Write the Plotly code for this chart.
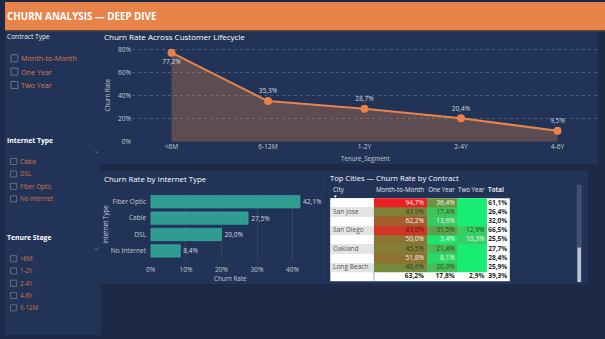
import plotly.graph_objects as go

W, H = 605, 339
FONT = "Open Sans, Noto Sans, sans-serif"

# ---------------- data ----------------
tenure_segments = ["<6M", "6-12M", "1-2Y", "2-4Y", "4-6Y"]
tenure_churn = [0.772, 0.353, 0.287, 0.204, 0.095]

internet_types = ["Fiber Optic", "Cable", "DSL", "No Internet"]
internet_churn = [0.421, 0.275, 0.200, 0.084]

table_columns = ["City", "Month-to-Month", "One Year", "Two Year", "Total"]
table_cities = ["", "San Jose", "", "San Diego", "", "Oakland", "", "Long Beach"]
mtm_churn = [0.947, 0.439, 0.622, 0.830, 0.500, 0.455, 0.518, 0.406]
one_year_churn = [0.364, 0.174, 0.136, 0.315, 0.034, 0.214, 0.081, 0.200]
two_year_churn = [None, None, None, 0.129, 0.103, None, None, None]
city_total_churn = [0.611, 0.264, 0.320, 0.665, 0.255, 0.277, 0.284, 0.259]
total_row_churn = [0.632, 0.178, 0.029, 0.393]

contract_options = ["Month-to-Month", "One Year", "Two Year"]
internet_options = ["Cable", "DSL", "Fiber Optic", "No Internet"]
tenure_options = ["<6M", "1-2Y", "2-4Y", "4-6Y", "6-12M"]


def fmt(v):
    return f"{v * 100:.1f}%".replace(".", ",")


def px(x):
    return x / W


def py(y):
    return 1 - y / H


ORANGE = "#E8834A"
NAVY_PAGE = "#1C2A48"
NAVY_PANEL = "#213357"
TEXT = "#D3D8E1"
AXIS_TXT = "#C4CAD5"
GRID = "rgba(190,200,220,0.28)"
LEFT_FIX = 2.5  # annotation text inset compensation

fig = go.Figure()
shapes = []
annotations = []


def rect(x0, y0, x1, y1, color, layer="below", line=None):
    shapes.append(dict(type="rect", xref="paper", yref="paper",
                       x0=px(x0), x1=px(x1), y0=py(y1), y1=py(y0),
                       fillcolor=color, line=line or dict(width=0), layer=layer))


def text(x, y, s, size=7, color=TEXT, xanchor="left", bold=False, angle=0):
    if xanchor == "left":
        x = x - LEFT_FIX
    annotations.append(dict(xref="paper", yref="paper", x=px(x), y=py(y),
                            text=f"<b>{s}</b>" if bold else s, showarrow=False,
                            xanchor=xanchor, yanchor="middle", textangle=angle,
                            font=dict(size=size, color=color, family=FONT)))


# ---------------- page background & panels ----------------
rect(0, 29, 97, 339, NAVY_PANEL)
rect(97, 30, 598, 165, NAVY_PANEL)
rect(97, 172, 325, 287, NAVY_PANEL)
rect(325, 172, 588, 287, NAVY_PANEL)
rect(0, 0, 605, 29, ORANGE)
rect(0, 28.5, 605, 30, "#5A4536")
text(3, 14.5, "CHURN ANALYSIS — DEEP DIVE", size=9.8, color="white", bold=True)

# ---------------- slicers ----------------
text(2, 35, "Contract Type", size=6.6, color="#E6E9EF")
for i, opt in enumerate(contract_options):
    yc = 57.3 + i * 13.6
    rect(6, yc - 3.6, 13, yc + 3.6, "rgba(0,0,0,0)", line=dict(color="#66748C", width=1))
    text(17, yc, opt, size=7.2, color="#DB7A46")

text(2, 140.5, "Internet Type", size=6.8, color="white", bold=True)
text(92, 150, "⌄", size=8, color="#5D6B84", xanchor="center")
for i, opt in enumerate(internet_options):
    yc = 162.3 + i * 12.7
    rect(5.5, yc - 3.1, 11.8, yc + 3.1, "rgba(0,0,0,0)", line=dict(color="#5F6D86", width=1))
    text(16, yc, opt, size=6.2, color="#D9773F")

text(2, 239.5, "Tenure Stage", size=6.8, color="white", bold=True)
text(92, 249, "⌄", size=8, color="#5D6B84", xanchor="center")
for i, opt in enumerate(tenure_options):
    yc = 261.3 + i * 12.5
    rect(5.5, yc - 3.1, 11.8, yc + 3.1, "rgba(0,0,0,0)", line=dict(color="#5F6D86", width=1))
    text(16, yc, opt, size=6.2, color="#D9773F")

# ---------------- line / area chart ----------------
text(100, 35.5, "Churn Rate Across Customer Lifecycle", size=8, color="white")
fig.add_trace(go.Scatter(
    x=tenure_segments, y=tenure_churn, mode="lines+markers+text",
    fill="tozeroy", fillcolor="rgba(232,131,74,0.31)",
    line=dict(color=ORANGE, width=2), marker=dict(size=8, color=ORANGE),
    text=[fmt(v) for v in tenure_churn],
    textposition=["bottom center"] + ["top center"] * 4,
    textfont=dict(size=6.6, color=TEXT, family=FONT),
    cliponaxis=False, hoverinfo="skip", xaxis="x", yaxis="y"))
text(103, 95, "Churn Rate", size=6.2, color=AXIS_TXT, xanchor="center", angle=-90)
text(363, 159, "Tenure_Segment", size=6.2, color=AXIS_TXT, xanchor="center")

# ---------------- bar chart ----------------
text(100, 180, "Churn Rate by Internet Type", size=7.8, color="white")
fig.add_trace(go.Bar(
    x=internet_churn, y=internet_types, orientation="h", width=0.76,
    marker=dict(color="#2E9C91", line=dict(color="#3FB3A7", width=0.6)),
    text=[fmt(v) for v in internet_churn], textposition="outside",
    textfont=dict(size=6.6, color=TEXT, family=FONT),
    cliponaxis=False, hoverinfo="skip", xaxis="x2", yaxis="y2"))
text(102, 226.7, "Internet Type", size=6.2, color=AXIS_TXT, xanchor="center", angle=-90)
text(227.7, 281, "Churn Rate", size=6.2, color=AXIS_TXT, xanchor="center")

# ---------------- table (matrix) ----------------
text(327.7, 179.5, "Top Cities — Churn Rate by Contract", size=7.6, color="white")
TL, TR = 328, 509
col_edges = [0, 44, 97, 128, 158, 181]
n_rows = len(table_cities)
rect(TL, 199.8, TR, 284.4, "#FFFFFF")
shapes.append(dict(type="line", xref="paper", yref="paper", x0=px(TL + col_edges[1]),
                   x1=px(TL + col_edges[1]), y0=py(284.4), y1=py(199.8),
                   line=dict(color="#9DB4D4", width=1), layer="below"))

# city column striping
fig.add_trace(go.Heatmap(
    x=col_edges[0:2], y=list(range(n_rows + 1)),
    z=[[r % 2] for r in range(n_rows)], zmin=0, zmax=1,
    colorscale=[[0, "#FFFFFF"], [1, "#E4E4E4"]], showscale=False,
    hoverinfo="skip", xaxis="x3", yaxis="y3"))

# conditional formatted cells
z_vals = [[m, o, t if t is not None else 0.0]
          for m, o, t in zip(mtm_churn, one_year_churn, two_year_churn)]
fig.add_trace(go.Heatmap(
    x=col_edges[1:5], y=list(range(n_rows + 1)), z=z_vals,
    zmin=0, zmax=max(mtm_churn),
    colorscale=[[0, "#19EC72"], [0.5, "#857A33"], [1, "#EE1F22"]],
    showscale=False, hoverinfo="skip", xaxis="x3", yaxis="y3"))

tx, ty, tt, tc, tp = [], [], [], [], []
light, dark, bold_c = "#F4F4F4", "rgba(25,25,25,0.78)", "#1E1E1E"
for r in range(n_rows):
    yc = r + 0.5
    fc = light if r % 2 == 0 else dark
    tx.append(col_edges[0] + 2.7); ty.append(yc); tt.append(table_cities[r]); tc.append(fc); tp.append("middle right")
    for ci, col in enumerate([mtm_churn, one_year_churn, two_year_churn]):
        if col[r] is not None:
            tx.append(col_edges[ci + 2] - 2.5); ty.append(yc); tt.append(fmt(col[r]))
            tc.append(fc); tp.append("middle left")
    tx.append(col_edges[5] - 2.5); ty.append(yc); tt.append(f"<b>{fmt(city_total_churn[r])}</b>")
    tc.append(bold_c); tp.append("middle left")
for ci, v in enumerate(total_row_churn):
    tx.append(col_edges[ci + 2] - 2.5); ty.append(n_rows + 0.5); tt.append(f"<b>{fmt(v)}</b>")
    tc.append(bold_c); tp.append("middle left")

fig.add_trace(go.Scatter(
    x=tx, y=ty, mode="text", text=tt, textposition=tp,
    textfont=dict(size=6.6, color=tc, family=FONT),
    cliponaxis=False, hoverinfo="skip", xaxis="x3", yaxis="y3"))

# header row
hy = -0.8
hx, ht, hp = [col_edges[0] + 2.7], [table_columns[0]], ["middle right"]
for ci in range(1, 5):
    hx.append(col_edges[ci + 1] - (2.5 if ci < 4 else 6))
    ht.append(table_columns[ci] if ci < 4 else f"<b>{table_columns[ci]}</b>")
    hp.append("middle left")
fig.add_trace(go.Scatter(
    x=hx, y=[hy] * len(hx), mode="text", text=ht, textposition=hp,
    textfont=dict(size=6.2, color="#E6E9EF", family=FONT),
    cliponaxis=False, hoverinfo="skip", xaxis="x3", yaxis="y3"))
annotations.append(dict(xref="paper", yref="paper", x=px(333.5), y=py(198), text="▾",
                        showarrow=False, font=dict(size=4.5, color="white", family=FONT)))

# scrollbar
shapes.append(dict(type="rect", xref="paper", yref="paper", x0=px(577), x1=px(581),
                   y0=py(285), y1=py(186.5), fillcolor="rgba(150,165,190,0.25)",
                   line=dict(color="rgba(150,165,190,0.35)", width=0.5), layer="above"))
shapes.append(dict(type="rect", xref="paper", yref="paper", x0=px(577.3), x1=px(580.7),
                   y0=py(285), y1=py(250), fillcolor="#C3CAD6",
                   line=dict(width=0), layer="above"))

# ---------------- layout ----------------
axis_common = dict(tickfont=dict(size=6.6, color=AXIS_TXT, family=FONT), zeroline=False,
                   showline=False)
fig.update_layout(
    width=W, height=H, autosize=False, margin=dict(l=0, r=0, t=0, b=0),
    paper_bgcolor=NAVY_PAGE, plot_bgcolor="rgba(0,0,0,0)",
    showlegend=False, hovermode=False, font=dict(family=FONT),
    shapes=shapes, annotations=annotations,
    xaxis=dict(domain=[px(128), px(597)], anchor="y", type="category", range=[-0.41, 4.41],
               showgrid=False, **axis_common),
    yaxis=dict(domain=[py(142.3), py(46)], anchor="x", range=[0, 0.82], dtick=0.2,
               tickformat=".0%", showgrid=True, gridcolor=GRID, griddash="dot", gridwidth=1,
               **axis_common),
    xaxis2=dict(domain=[px(146.7), px(311.4)], anchor="y2", range=[0, 0.46], dtick=0.1,
                tickformat=".0%", showgrid=True, gridcolor="rgba(190,200,220,0.12)",
                ticks="outside", ticklen=4, tickcolor="rgba(0,0,0,0)", **axis_common),
    yaxis2=dict(domain=[py(261.7), py(195)], anchor="x2", type="category",
                autorange="reversed", showgrid=False, ticks="outside", ticklen=2,
                tickcolor="rgba(0,0,0,0)", **axis_common),
    xaxis3=dict(domain=[px(TL), px(TR)], anchor="y3", range=[0, col_edges[-1]], visible=False),
    yaxis3=dict(domain=[py(284.4), py(188.5)], anchor="x3", range=[n_rows + 1, -1.2],
                visible=False),
)

fig.write_html("out.html")
